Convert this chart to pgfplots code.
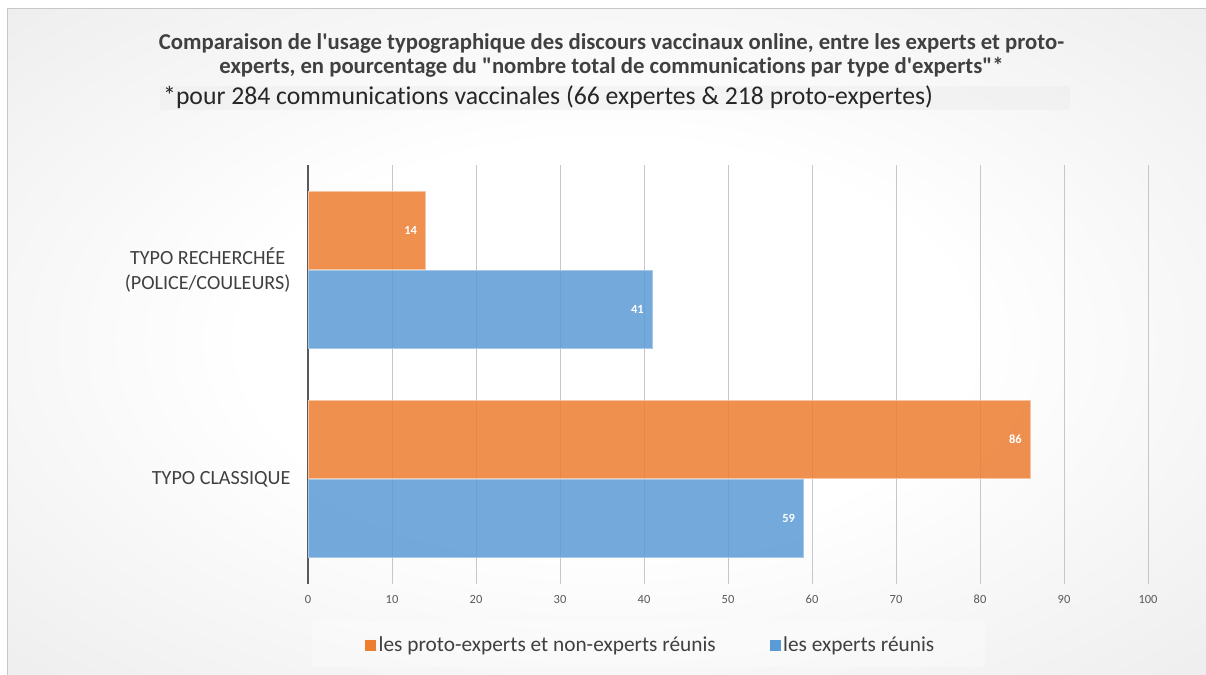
\documentclass[border=0pt]{standalone}
\usepackage{pgfplots}
\pgfplotsset{compat=1.18}
\usepackage{fontspec}
\setmainfont{Carlito}[Ligatures={TeXOff,NoCommon}]
\definecolor{orangebar}{HTML}{ED7D31}
\definecolor{bluebar}{HTML}{5B9BD5}
\definecolor{textgray}{HTML}{404040}
\definecolor{tickgray}{HTML}{595959}
\pgfdeclareradialshading{bgshade}{\pgfpoint{0bp}{0bp}}{color(0bp)=(white); color(15bp)=(white); color(70.71bp)=(black!18)}
\begin{document}
\begin{tikzpicture}[x=1bp,y=1bp]
\useasboundingbox (0,0) rectangle (1206,675);
\fill[white] (0,0) rectangle (1206,675);
\shade[shading=bgshade] (7,0) rectangle (1206,666);
\draw[black!22, line width=1bp] (7,0) -- (7,666) -- (1206,666);
% subtitle band
\fill[black!8, opacity=0.45] (160,565) rectangle (1070,589);
% legend band
\fill[white, opacity=0.3] (312,8) rectangle (985,54);
\node[align=center, text=textgray, font=\bfseries\fontsize{22.8}{25}\selectfont] at (611.5,619.5)
  {Comparaison de l\char"27 usage typographique des discours vaccinaux online, entre les experts et proto-\\experts, en pourcentage du \char"22 nombre total de communications par type d\char"27 experts\char"22*};
\node[anchor=west, inner sep=0pt, text=black!85, font=\fontsize{25.8}{28}\selectfont] at (163,578)
  {*pour 284 communications vaccinales (66 expertes \& 218 proto-expertes)};
\begin{axis}[
  at={(308bp,91bp)}, anchor=south west,
  scale only axis, width=840bp, height=419bp,
  xmin=0, xmax=100, ymin=-0.5, ymax=1.5,
  xbar, bar width=78bp,
  xtick={0,10,...,100},
  ytick={0,1},
  /pgf/number format/assume math mode=true,
  typeset ticklabels with strut,
  yticklabels={TYPO CLASSIQUE,{TYPO RECHERCHÉE\\(POLICE/COULEURS)}},
  yticklabel style={align=center, text=textgray, font=\fontsize{20.2}{25}\selectfont},
  xticklabel style={text=tickgray, font=\fontsize{12.5}{14}\selectfont},
  xticklabel shift=6bp,
  yticklabel shift=14bp,
  major tick length=0pt,
  xmajorgrids,
  grid style={black!22, line width=1bp},
  axis x line*=bottom,
  axis y line*=left,
  x axis line style={draw=none},
  y axis line style={draw=black!65, line width=1.6bp, -},
  legend style={at={(axis description cs:0.068,-0.146)}, anchor=west, draw=none, fill=none,
    font=\fontsize{21.4}{24}\selectfont, text=textgray, inner sep=0pt,
    nodes={inner sep=3bp},
    /tikz/every even column/.append style={column sep=51bp}},
  legend columns=2,
  legend cell align=left,
  nodes near coords,
  every node near coord/.append style={anchor=east, xshift=-5bp, text=white, text opacity=1,
    font=\bfseries\fontsize{12.5}{14}\selectfont},
]
\addlegendimage{legend image code/.code={\fill[orangebar] (0bp,-5bp) rectangle (10bp,5bp);}}
\addlegendentry{les proto-experts et non-experts réunis}
\addlegendimage{legend image code/.code={\fill[bluebar] (0bp,-5bp) rectangle (10bp,5bp);}}
\addlegendentry{les experts réunis}
\addplot[forget plot, fill=orangebar, fill opacity=0.85, draw=orangebar!45!white, line width=0.8bp, bar shift=39.5bp]
  coordinates {(86,0) (14,1)};
\addplot[forget plot, fill=bluebar, fill opacity=0.85, draw=bluebar!55!white, line width=0.8bp, bar shift=-39.5bp]
  coordinates {(59,0) (41,1)};
\end{axis}
\end{tikzpicture}
\end{document}
